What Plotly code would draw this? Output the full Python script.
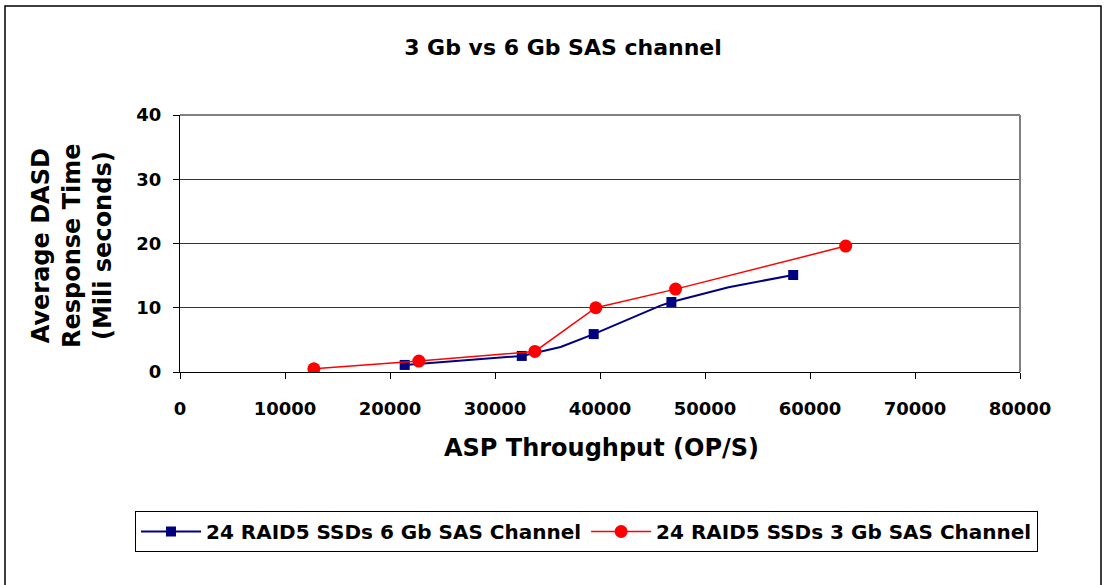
import plotly.graph_objects as go

# ---- data ----
title_text = "3 Gb vs 6 Gb SAS channel"
x_title = "ASP Throughput (OP/S)"
y_title = "Average DASD<br>Response Time<br>(Mili seconds)"

name_6gb = "24 RAID5 SSDs 6 Gb SAS Channel"
name_3gb = "24 RAID5 SSDs 3 Gb SAS Channel"

# 6 Gb series: full line path (includes unmarked vertices)
x_6gb_line = [21400, 32550, 36250, 39400, 45700, 46800, 52250, 58400]
y_6gb_line = [1.1, 2.5, 3.9, 5.9, 10.3, 10.9, 13.2, 15.1]
# 6 Gb series: marked points
x_6gb_pts = [21400, 32550, 39400, 46800, 58400]
y_6gb_pts = [1.1, 2.5, 5.9, 10.9, 15.1]

# 3 Gb series
x_3gb = [12750, 22750, 33800, 39600, 47200, 63400]
y_3gb = [0.5, 1.7, 3.2, 10.0, 12.9, 19.6]

x_ticks = [0, 10000, 20000, 30000, 40000, 50000, 60000, 70000, 80000]
y_ticks = [0, 10, 20, 30, 40]

FONT = "DejaVu Sans"
NAVY = "#000080"
RED = "#FF0000"

fig = go.Figure()

# legend-only entries
fig.add_trace(go.Scatter(x=[None], y=[None], mode="lines+markers", name=name_6gb,
                         line=dict(color=NAVY, width=2),
                         marker=dict(symbol="square", size=10, color=NAVY)))
fig.add_trace(go.Scatter(x=[None], y=[None], mode="lines+markers", name=name_3gb,
                         line=dict(color=RED, width=1.5),
                         marker=dict(symbol="circle", size=13, color=RED)))

# 6 Gb line and markers
fig.add_trace(go.Scatter(x=x_6gb_line, y=y_6gb_line, mode="lines", showlegend=False,
                         line=dict(color=NAVY, width=2), hoverinfo="skip"))
fig.add_trace(go.Scatter(x=x_6gb_pts, y=y_6gb_pts, mode="markers", showlegend=False,
                         marker=dict(symbol="square", size=10, color=NAVY)))
# 3 Gb line with markers
fig.add_trace(go.Scatter(x=x_3gb, y=y_3gb, mode="lines+markers", showlegend=False,
                         line=dict(color=RED, width=1.5),
                         marker=dict(symbol="circle", size=13, color=RED)))

W, H = 1107, 585
L, R, T, B = 180, 87, 115, 213
pw, ph = W - L - R, H - T - B

def px(xp):
    return (xp - L) / pw

def py(yp):
    return (H - B - yp) / ph

fig.update_layout(
    width=W, height=H,
    margin=dict(l=L, r=R, t=T, b=B, autoexpand=False),
    paper_bgcolor="white", plot_bgcolor="white",
    font=dict(family=FONT, color="black", size=18),
    title=dict(text=title_text, x=563 / W, xanchor="center", y=1 - 47 / H, yanchor="middle",
               xref="container", yref="container",
               font=dict(family=FONT, size=22, weight="bold", color="black")),
    xaxis=dict(range=[0, 80000], tickvals=x_ticks, tickformat="d",
               showgrid=False, zeroline=False, showline=True, linecolor="black", linewidth=1,
               ticks="outside", ticklen=6, tickcolor="black", tickwidth=1,
               ticklabelstandoff=14,
               tickfont=dict(family=FONT, size=18, weight="bold")),
    yaxis=dict(range=[0, 40], tickvals=y_ticks,
               showgrid=True, gridcolor="#333333", gridwidth=1, zeroline=False,
               showline=True, linecolor="black", linewidth=1,
               ticks="outside", ticklen=6, tickcolor="black", tickwidth=1,
               ticklabelstandoff=8,
               tickfont=dict(family=FONT, size=18, weight="bold")),
    legend=dict(orientation="h", x=px(135), xanchor="left", y=py(511), yanchor="top",
                bordercolor="black", borderwidth=1, bgcolor="white",
                font=dict(family=FONT, size=20, weight="bold"),
                itemwidth=60, tracegroupgap=0),
    annotations=[
        dict(text=x_title, xref="paper", yref="paper", x=px(601), y=py(448),
             xanchor="center", yanchor="middle", showarrow=False,
             font=dict(family=FONT, size=24, weight="bold")),
        dict(text=y_title, xref="paper", yref="paper", x=px(72), y=py(246),
             xanchor="center", yanchor="middle", showarrow=False, textangle=-90,
             font=dict(family=FONT, size=24, weight="bold")),
    ],
    shapes=[
        # outer chart border
        dict(type="rect", xref="paper", yref="paper", x0=px(5), x1=px(1101), y0=py(600), y1=py(6),
             line=dict(color="black", width=1.5), layer="below"),
        # plot area border (top and right, gray)
        dict(type="line", xref="paper", yref="paper", x0=0, x1=1, y0=1, y1=1,
             line=dict(color="#808080", width=2), layer="above"),
        dict(type="line", xref="paper", yref="paper", x0=1, x1=1, y0=0, y1=1,
             line=dict(color="#808080", width=2), layer="above"),
    ],
)

fig.write_html("out.html", config={"displayModeBar": False},
               post_script="document.body.style.margin='0';document.body.style.overflow='hidden';")
